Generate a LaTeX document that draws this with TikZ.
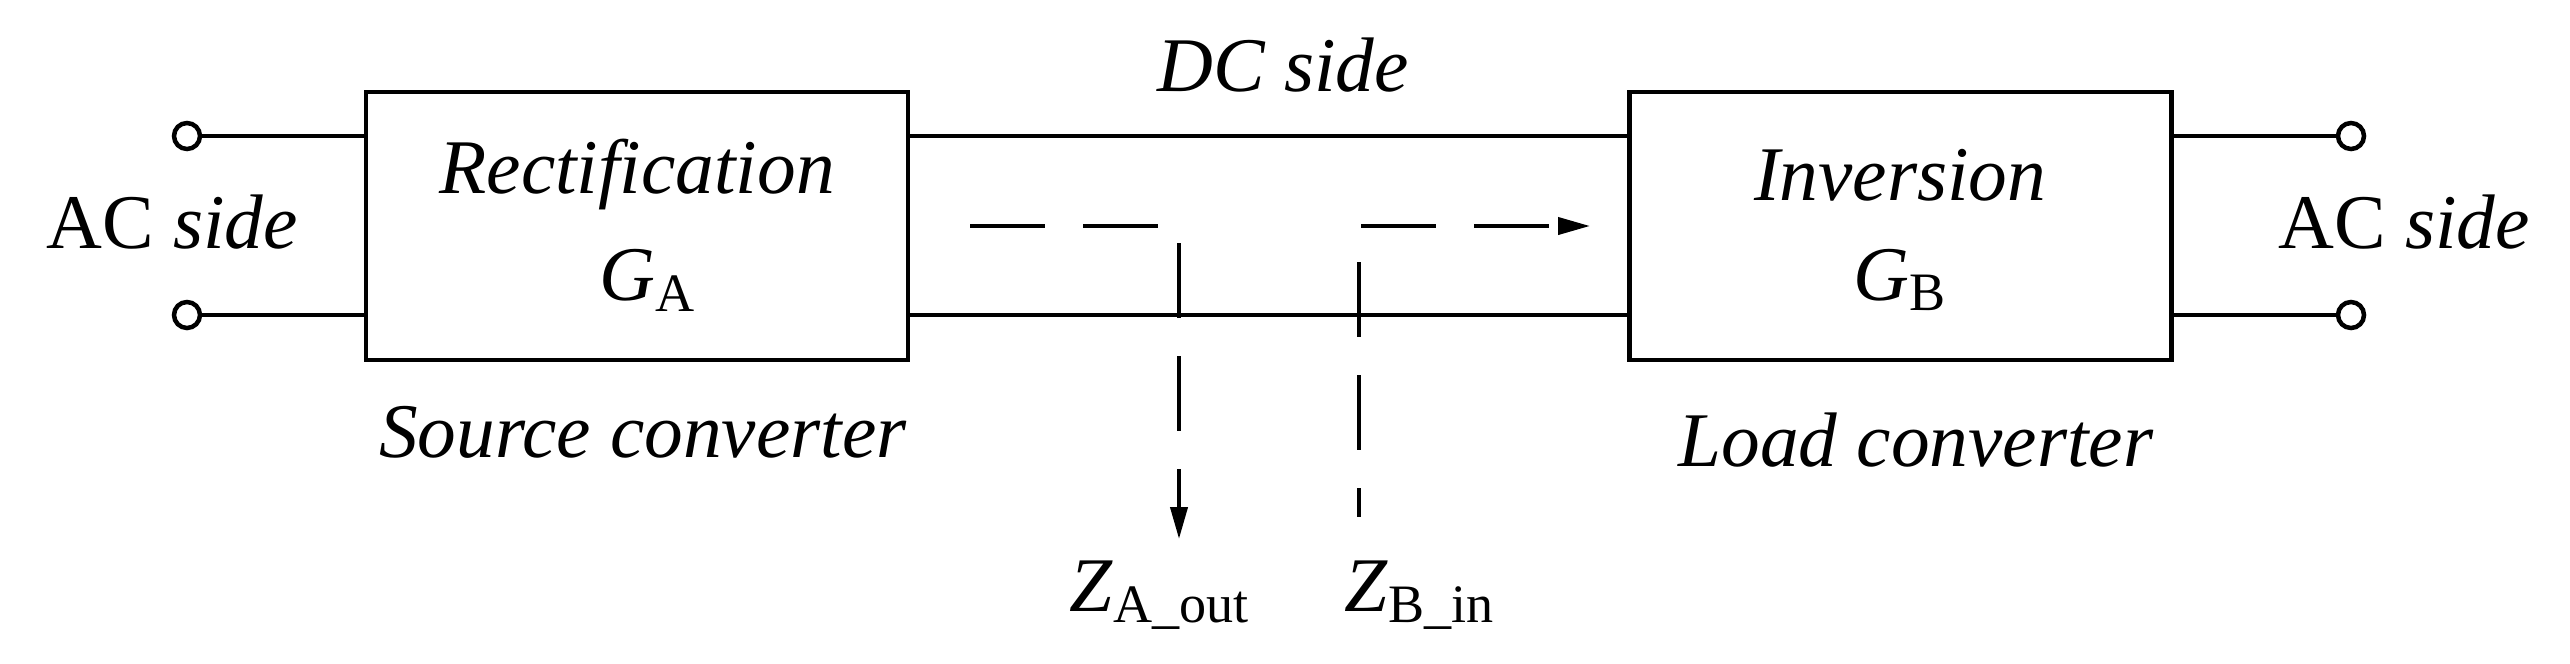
\documentclass[tikz,border=0pt]{standalone}
\usepackage{fontspec}
\setmainfont{Liberation Serif}
\usetikzlibrary{arrows.meta}
\begin{document}
\begin{tikzpicture}[x=0.1mm,y=-0.1mm,
  wire/.style={line width=0.45mm},
  box/.style={draw,line width=0.45mm,minimum width=54.2mm,minimum height=26.8mm,inner sep=0},
  term/.style={circle,draw,line width=0.45mm,minimum size=2.6mm,inner sep=0,fill=white},
  dsh/.style={line width=0.4mm,dash pattern=on 7.5mm off 3.8mm},
  tip/.style={-{Triangle[length=3.2mm,width=1.7mm]}},
  lab/.style={font=\fontsize{22}{26}\selectfont,inner sep=0}]
\useasboundingbox (0,0) rectangle (2570,663);
\node[box] (A) at (637,226) {};
\node[box] (B) at (1900.5,226) {};
\node[term] (t1) at (187,136) {};
\node[term] (t2) at (187,315) {};
\node[term] (t3) at (2351,136) {};
\node[term] (t4) at (2351,315) {};
\draw[wire] (t1) -- (t1 -| A.west);
\draw[wire] (t2) -- (t2 -| A.west);
\draw[wire] (t3) -- (t3 -| B.east);
\draw[wire] (t4) -- (t4 -| B.east);
\draw[wire] (A.east |- t1) -- (B.west |- t1);
\draw[wire] (A.east |- t2) -- (B.west |- t2);
\coordinate (a0) at (970,226);
\coordinate (a1) at (1179,226);
\coordinate (a2) at (1179,539);
\draw[dsh,tip] (a0) -- (a1) -- (a2);
\coordinate (b0) at (1359,517);
\coordinate (b1) at (1359,262);
\coordinate (b2) at (1361,226);
\coordinate (b3) at (1590,226);
\draw[dsh] (b1) -- (b0);
\draw[dsh,tip] (b2) -- (b3);
\node[lab] (acl) at (172,222) {AC \textit{side}};
\node[lab] (acr) at (2404,222) {AC \textit{side}};
\node[lab] (dc) at (1283,65) {\textit{DC side}};
\node[lab] (rec) at (637,175) {\textit{Rectification}};
\node[lab] (ga) at (648,280) {\textit{G}\textsubscript{A}};
\node[lab] (inv) at (1900,175) {\textit{Inversion}};
\node[lab] (gb) at (1900,280) {\textit{G}\textsubscript{B}};
\node[lab] (sc) at (643,432) {\textit{Source converter}};
\node[lab] (lc) at (1916,440) {\textit{Load converter}};
\node[lab] (za) at (1160,595) {\textit{Z}\textsubscript{A\_out}};
\node[lab] (zb) at (1420,595) {\textit{Z}\textsubscript{B\_in}};
\end{tikzpicture}
\end{document}
